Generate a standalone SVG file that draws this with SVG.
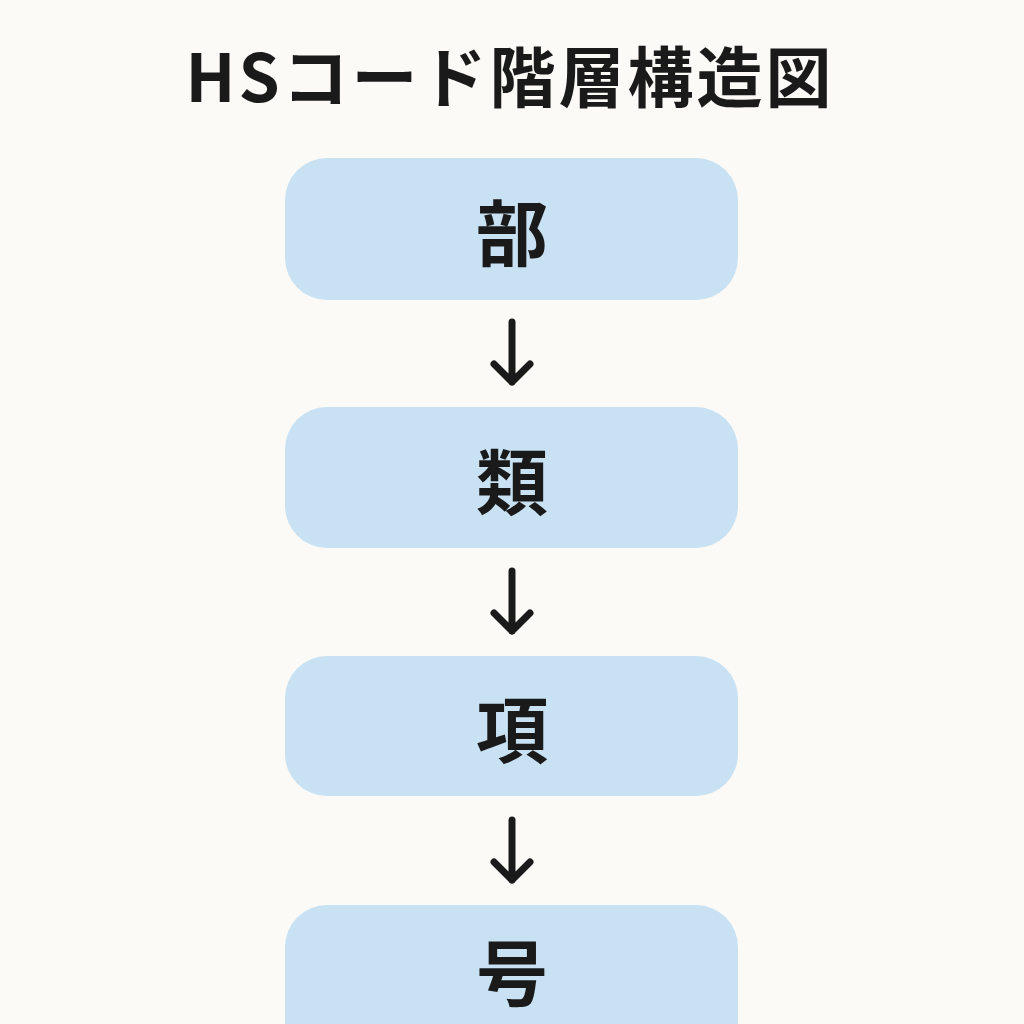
<svg xmlns="http://www.w3.org/2000/svg" width="1024" height="1024" viewBox="0 0 1024 1024">
<style>
.box{fill:#C8E2F4}
.lbl{font-family:"Noto Sans CJK JP","Noto Sans",sans-serif;font-weight:700;font-size:72px;fill:#1a1a1a;text-anchor:middle}
.title{font-family:"Noto Sans CJK JP","Noto Sans",sans-serif;font-weight:700;font-size:66px;fill:#1a1a1a;text-anchor:middle;letter-spacing:3px}
.arr{stroke:#1a1a1a;stroke-width:7;fill:none;stroke-linecap:round;stroke-linejoin:round}
</style>
<rect width="1024" height="1024" fill="#FBFAF7"/>
<text class="title" x="510" y="102">HSコード階層構造図</text>
<g id="n1"><rect class="box" x="285" y="158" width="453" height="142" rx="42"/><text class="lbl" x="512" y="260">部</text></g>
<g id="n2"><rect class="box" x="285" y="407" width="453" height="141" rx="42"/><text class="lbl" x="512" y="509">類</text></g>
<g id="n3"><rect class="box" x="285" y="656" width="453" height="140" rx="42"/><text class="lbl" x="512" y="757">項</text></g>
<g id="n4"><rect class="box" x="285" y="905" width="453" height="160" rx="42"/><text class="lbl" x="512" y="1000">号</text></g>
<g id="connectors">
<path class="arr" d="M512 322V382M494 364L512 382L530 364"/>
<path class="arr" d="M512 571V631M494 613L512 631L530 613"/>
<path class="arr" d="M512 820V880M494 862L512 880L530 862"/>
</g>
</svg>
